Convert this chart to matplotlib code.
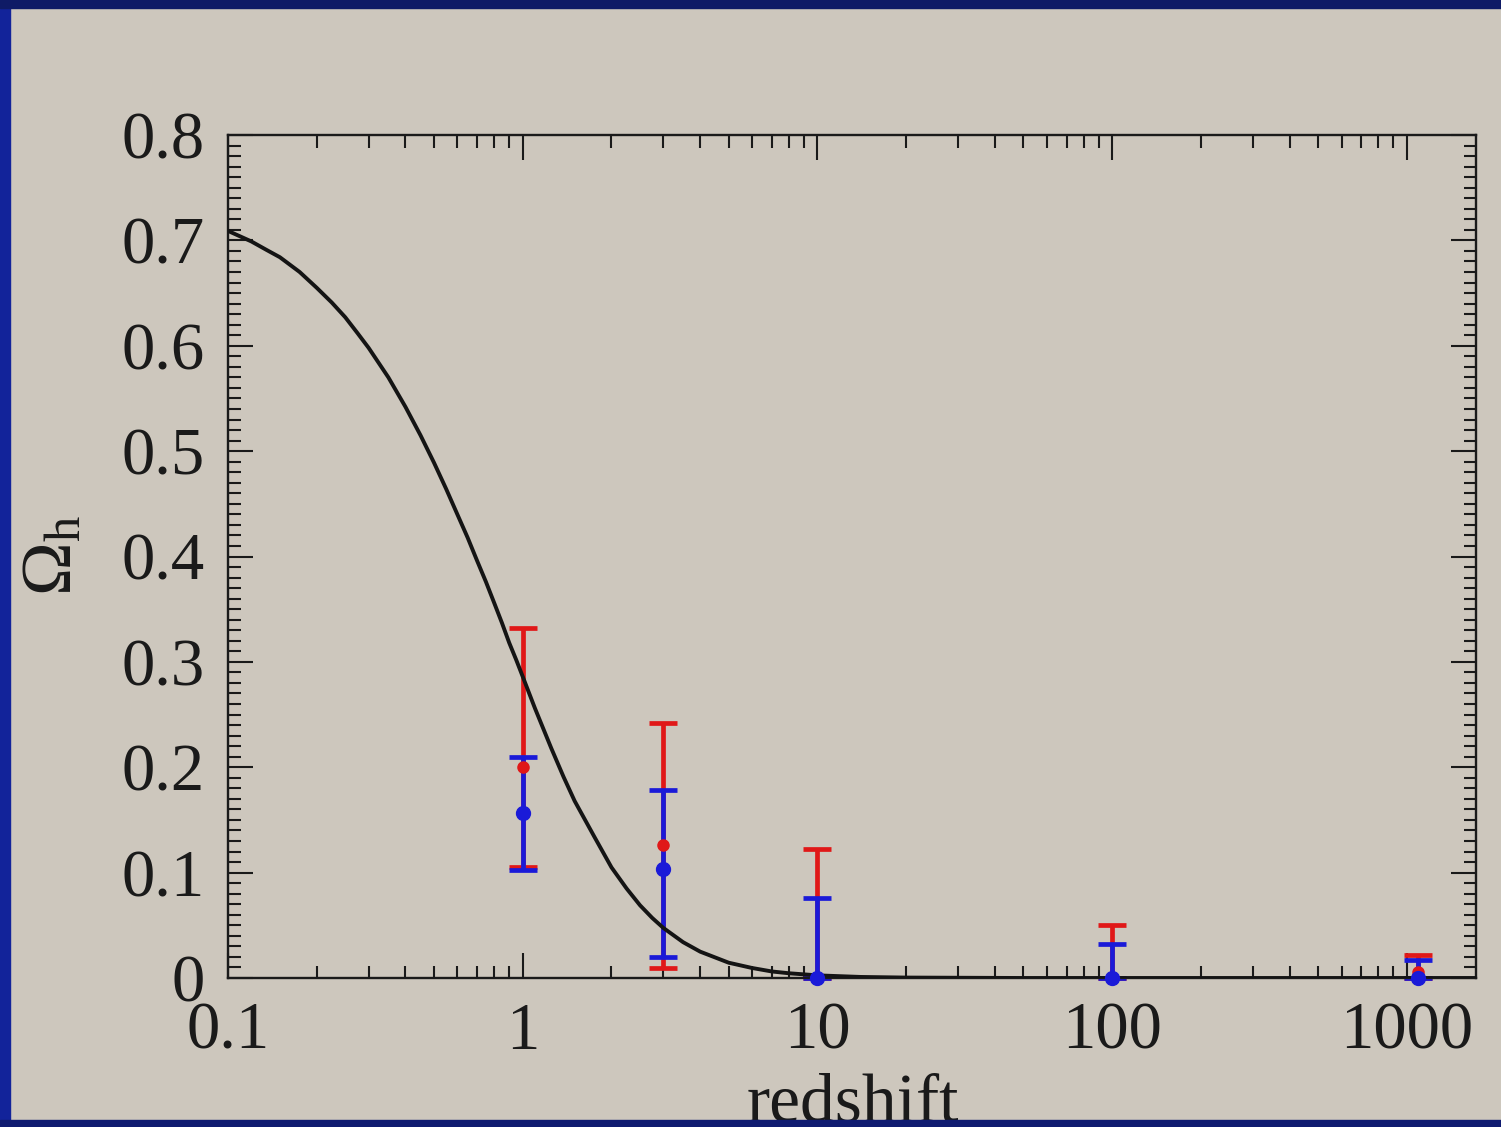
import matplotlib
matplotlib.use("Agg")
import matplotlib.pyplot as plt
from matplotlib.ticker import MultipleLocator, FixedLocator, NullFormatter, LogLocator
from matplotlib.patches import Rectangle

# ---- data ----
curve_z = [0.1, 0.12, 0.135, 0.15, 0.175, 0.2, 0.225, 0.25, 0.275, 0.3, 0.35,
           0.4, 0.45, 0.5, 0.55, 0.6, 0.65, 0.7, 0.75, 0.8, 0.85, 0.9, 0.95,
           1.0, 1.1, 1.25, 1.375, 1.5, 1.75, 2.0, 2.25, 2.5, 2.75, 3.0, 3.5,
           4.0, 5.0, 6.0, 7.0, 8.0, 10, 14, 20, 50, 1715]
curve_omega = [0.709, 0.699, 0.691, 0.684, 0.670, 0.655, 0.641, 0.627, 0.612,
               0.598, 0.570, 0.542, 0.515, 0.489, 0.464, 0.440, 0.418, 0.396,
               0.376, 0.356, 0.337, 0.318, 0.302, 0.286, 0.256, 0.218, 0.191,
               0.168, 0.134, 0.105, 0.085, 0.069, 0.057, 0.0475, 0.034, 0.025,
               0.0145, 0.0095, 0.0062, 0.0045, 0.0025, 0.0010, 0.0004, 0.0, 0.0]

red_z = [1.0, 3.0, 10.0, 100.0, 1090.0]
red_val = [0.200, 0.126, 0.0, 0.0, 0.006]
red_low = [0.1055, 0.0095, 0.0, 0.0, 0.0]
red_high = [0.332, 0.242, 0.122, 0.050, 0.022]

blue_z = [1.0, 3.0, 10.0, 100.0, 1090.0]
blue_val = [0.157, 0.1035, 0.0, 0.0, 0.0]
blue_low = [0.1026, 0.020, 0.0, 0.0, 0.0]
blue_high = [0.210, 0.178, 0.076, 0.032, 0.017]

xticks = [0.1, 1, 10, 100, 1000]
xtick_labels = ["0.1", "1", "10", "100", "1000"]
yticks = [0, 0.1, 0.2, 0.3, 0.4, 0.5, 0.6, 0.7, 0.8]
ytick_labels = ["0", "0.1", "0.2", "0.3", "0.4", "0.5", "0.6", "0.7", "0.8"]

# ---- style ----
BG = "#cdc7bd"
plt.rcParams["font.family"] = ["Liberation Serif", "DejaVu Serif"]
plt.rcParams["mathtext.fontset"] = "custom"
plt.rcParams["mathtext.rm"] = "Liberation Serif"
plt.rcParams["mathtext.it"] = "Liberation Serif:italic"

W, H = 1501, 1127
fig = plt.figure(figsize=(W / 100, H / 100), dpi=100, facecolor=BG)
ax = fig.add_axes([228 / W, 1 - 978 / H, 1248 / W, (978 - 135) / H])
ax.set_facecolor(BG)

ax.set_xscale("log")
ax.set_xlim(0.1, 1715)
ax.set_ylim(0, 0.8)

# curve
ax.plot(curve_z, curve_omega, color="#141414", lw=2.8, zorder=3,
        solid_capstyle="round", solid_joinstyle="round")

def draw_err(z, v, lo, hi, color, ms, z0):
    yerr = [[vv - l for vv, l in zip(v, lo)], [h - vv for vv, h in zip(v, hi)]]
    dl, caps, bars = ax.errorbar(z, v, yerr=yerr, fmt="o", color=color, ms=ms,
                                 elinewidth=3.4, capsize=10, capthick=3.4,
                                 zorder=z0)
    for c in caps:
        c.set_clip_on(False)
    for b in bars:
        b.set_clip_on(False)
    dl.set_clip_on(False)
    dl.set_zorder(5)

draw_err(red_z, red_val, red_low, red_high, "#e01818", 8, 2)
draw_err(blue_z, blue_val, blue_low, blue_high, "#1a1ad8", 10, 2.5)

# ticks
ax.xaxis.set_major_locator(FixedLocator(xticks))
ax.set_xticklabels(xtick_labels)
ax.xaxis.set_minor_locator(LogLocator(base=10, subs=[2, 3, 4, 5, 6, 7, 8, 9]))
ax.xaxis.set_minor_formatter(NullFormatter())
ax.yaxis.set_major_locator(FixedLocator(yticks))
ax.set_yticklabels(ytick_labels)
ax.yaxis.set_minor_locator(MultipleLocator(0.01))

ax.tick_params(which="both", direction="in", top=True, right=True,
               colors="#1a1a1a", width=1.5, labelsize=48, pad=17)
ax.tick_params(which="major", length=18)
ax.tick_params(which="minor", length=9)
for s in ax.spines.values():
    s.set_linewidth(1.7)
    s.set_color("#1a1a1a")

for lab in ax.get_xticklabels() + ax.get_yticklabels():
    lab.set_color("#1a1a1a")

# axis labels
fig.text(853 / W, 1 - 1122 / H, "redshift", ha="center", va="baseline",
         fontsize=50, color="#1a1a1a")
fig.text(54 / W, 1 - 556 / H, r"$\Omega_{\rm h}$", ha="center", va="center",
         rotation=90, fontsize=52, color="#1a1a1a")

# blue frame
fig.patches.append(Rectangle((0, 0), 10 / W, 1, transform=fig.transFigure,
                             color="#12239a", zorder=10))
fig.patches.append(Rectangle((0, 1 - 8 / H), 1, 8 / H, transform=fig.transFigure,
                             color="#0f1b66", zorder=10))
fig.patches.append(Rectangle((0, 0), 1, 7 / H, transform=fig.transFigure,
                             color="#0f1b70", zorder=10))

fig.savefig("out.png", dpi=100, facecolor=BG)
